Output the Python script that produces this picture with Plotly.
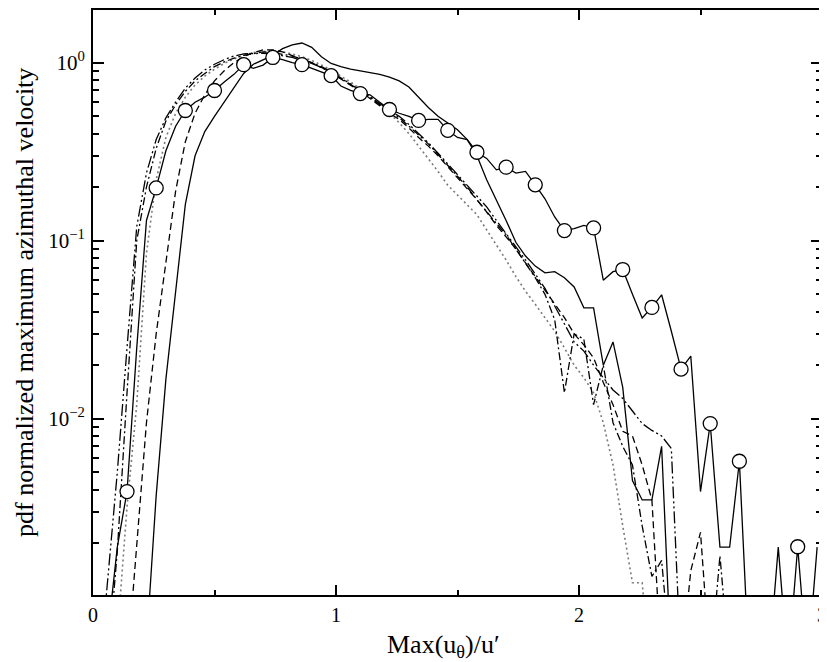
import plotly.graph_objects as go

# bin centres of Max(u_theta)/u'
X = [0.02, 0.06, 0.10, 0.14, 0.18, 0.22, 0.26, 0.30, 0.34, 0.38,
     0.42, 0.46, 0.50, 0.54, 0.58, 0.62, 0.66, 0.70, 0.74, 0.78,
     0.82, 0.86, 0.90, 0.94, 0.98, 1.02, 1.06, 1.10, 1.14, 1.18,
     1.22, 1.26, 1.30, 1.34, 1.38, 1.42, 1.46, 1.50, 1.54, 1.58,
     1.62, 1.66, 1.70, 1.74, 1.78, 1.82, 1.86, 1.90, 1.94, 1.98,
     2.02, 2.06, 2.10, 2.14, 2.18, 2.22, 2.26, 2.30, 2.34, 2.38,
     2.42, 2.46, 2.50, 2.54, 2.58, 2.62, 2.66, 2.70, 2.74, 2.78,
     2.82, 2.86, 2.90, 2.94, 2.98]

# solid line with open circles
pdf_circles = [None, 0.0006, 0.0019, 0.0039, 0.025, 0.13, 0.198, 0.32, 0.44, 0.539,
               0.60, 0.64, 0.698, 0.78, 0.86, 0.975, 0.93, 0.97, 1.07, 1.04,
               1.00, 0.975, 0.93, 0.88, 0.846, 0.74, 0.70, 0.671, 0.66, 0.60,
               0.546, 0.52, 0.50, 0.474, 0.48, 0.48, 0.417, 0.38, 0.37, 0.314,
               0.29, 0.25, 0.259, 0.24, 0.245, 0.206, 0.172, 0.136, 0.114, 0.117,
               0.122, 0.118, 0.060, 0.067, 0.0689, 0.050, 0.0368, 0.0422, 0.0497, 0.031,
               0.019, 0.0225, 0.0039, 0.0094, 0.0019, 0.0019, 0.00577, 0.0004, 0.0004, 0.0004,
               0.0019, 0.0004, 0.00191, 0.0004, 0.0019]
circle_every = 3
circle_start = 3

# plain solid line
pdf_solid = [None, None, None, None, None, 0.00054, 0.0037, 0.0167, 0.051, 0.16,
             0.30, 0.41, 0.50, 0.60, 0.72, 0.87, 0.98, 1.04, 1.10, 1.20,
             1.26, 1.29, 1.22, 1.08, 0.99, 0.95, 0.92, 0.90, 0.88, 0.86,
             0.83, 0.79, 0.73, 0.64, 0.56, 0.50, 0.46, 0.42, 0.37, 0.30,
             0.22, 0.17, 0.13, 0.098, 0.082, 0.072, 0.066, 0.067, 0.062, 0.055,
             0.042, 0.042, 0.020, 0.027, 0.015, 0.0045, 0.0035, 0.0035, 0.007, 0.0004,
             None, None, None, None, None, None, None, None, None, None,
             None, None, None, None, None]

# dashed
pdf_dashed = [None, None, None, 0.0004, 0.002, 0.0095, 0.03, 0.075, 0.19, 0.36,
              0.52, 0.66, 0.79, 0.90, 1.00, 1.08, 1.14, 1.18, 1.18, 1.15,
              1.10, 1.05, 1.00, 0.94, 0.88, 0.81, 0.75, 0.69, 0.63, 0.57,
              0.52, 0.48, 0.43, 0.38, 0.34, 0.30, 0.26, 0.225, 0.195, 0.17,
              0.145, 0.122, 0.105, 0.09, 0.075, 0.063, 0.053, 0.044, 0.037, 0.030,
              0.026, 0.022, 0.016, 0.012, 0.0085, 0.008, 0.0055, 0.0035, 0.0004, 0.0004,
              0.0004, 0.0014, 0.0023, 0.0004, None, None, None, None, None, None,
              None, None, None, None, None]

# dotted (grey)
pdf_dotted = [None, None, 0.0006, 0.0032, 0.012, 0.085, 0.22, 0.38, 0.52, 0.64,
              0.75, 0.84, 0.92, 0.99, 1.05, 1.10, 1.14, 1.16, 1.17, 1.15,
              1.12, 1.08, 1.03, 0.97, 0.91, 0.84, 0.78, 0.71, 0.65, 0.59,
              0.52, 0.46, 0.40, 0.34, 0.29, 0.245, 0.205, 0.18, 0.16, 0.14,
              0.115, 0.095, 0.078, 0.063, 0.052, 0.044, 0.037, 0.031, 0.025, 0.020,
              0.017, 0.014, 0.0095, 0.0055, 0.0025, 0.0012, 0.0012, 0.0003, None, None,
              None, None, None, None, None, None, None, None, None, None,
              None, None, None, None, None]

# dash-dot
pdf_dashdot = [None, 0.0004, 0.0018, 0.014, 0.10, 0.20, 0.33, 0.47, 0.58, 0.69,
               0.79, 0.87, 0.95, 1.01, 1.06, 1.10, 1.13, 1.15, 1.14, 1.12,
               1.09, 1.05, 1.00, 0.95, 0.89, 0.82, 0.76, 0.70, 0.64, 0.58,
               0.53, 0.49, 0.44, 0.39, 0.35, 0.305, 0.265, 0.23, 0.20, 0.17,
               0.145, 0.125, 0.108, 0.09, 0.075, 0.062, 0.05, 0.036, 0.014, 0.03,
               0.028, 0.012, 0.02, 0.0095, 0.007, 0.0055, 0.0025, 0.0013, 0.0016, 0.0004,
               0.0004, 0.0004, 0.0004, 0.0004, 0.0017, 0.0004, None, None, None, None,
               None, None, None, None, None]

# long dash-dot-dot
pdf_dashdotdot = [0.0003, 0.0012, 0.005, 0.025, 0.12, 0.24, 0.37, 0.49, 0.60, 0.72,
                  0.82, 0.91, 0.98, 1.04, 1.09, 1.12, 1.13, 1.13, 1.12, 1.10,
                  1.07, 1.03, 0.99, 0.94, 0.88, 0.82, 0.76, 0.70, 0.645, 0.59,
                  0.54, 0.50, 0.45, 0.40, 0.355, 0.31, 0.27, 0.235, 0.205, 0.18,
                  0.155, 0.13, 0.11, 0.093, 0.078, 0.065, 0.054, 0.043, 0.034, 0.027,
                  0.024, 0.020, 0.017, 0.0145, 0.013, 0.011, 0.0094, 0.0086, 0.008, 0.0068,
                  0.0004, None, None, None, None, None, None, None, None, None,
                  None, None, None, None, None]

x_ticks = [0, 1, 2, 3]
x_tick_text = ["0", "1", "2", "3"]
x_minor = [0.5, 1.5, 2.5]
y_ticks = [0.01, 0.1, 1]
y_tick_text = ["10<sup>−2</sup>", "10<sup>−1</sup>", "10<sup>0</sup>"]
y_minor = [m * d for d in (0.001, 0.01, 0.1) for m in range(2, 10)]

FONT = "Liberation Serif"

# page body has an 8px margin, so the figure is sized to fit the 827x662 window
W, H = 819, 654
ML, MT, MB = 85, 0, 67
PW, PH = W - ML, H - MT - MB

fig = go.Figure()

fig.add_trace(go.Scatter(x=X, y=pdf_dotted, mode="lines",
                         line=dict(color="#7a7a7a", width=1.6, dash="2px,3px")))
fig.add_trace(go.Scatter(x=X, y=pdf_dashed, mode="lines",
                         line=dict(color="black", width=1.3, dash="7px,4px")))
fig.add_trace(go.Scatter(x=X, y=pdf_dashdot, mode="lines",
                         line=dict(color="black", width=1.3, dash="8px,3px,2px,3px")))
fig.add_trace(go.Scatter(x=X, y=pdf_dashdotdot, mode="lines",
                         line=dict(color="black", width=1.3, dash="12px,3px,2px,3px,2px,3px")))
fig.add_trace(go.Scatter(x=X, y=pdf_solid, mode="lines",
                         line=dict(color="black", width=1.3)))
fig.add_trace(go.Scatter(x=X, y=pdf_circles, mode="lines",
                         line=dict(color="black", width=1.3)))
fig.add_trace(go.Scatter(x=X[circle_start::circle_every], y=pdf_circles[circle_start::circle_every],
                         mode="markers",
                         marker=dict(symbol="circle", size=14, color="white",
                                     line=dict(color="black", width=1.3))))

fig.update_layout(
    width=W, height=H,
    margin=dict(l=ML, r=0, t=MT, b=MB, pad=0),
    paper_bgcolor="white", plot_bgcolor="white",
    showlegend=False,
    font=dict(family=FONT, color="black", size=20),
)

fig.update_xaxes(
    range=[0, 3], tickmode="array", tickvals=x_ticks, ticktext=x_tick_text,
    ticks="inside", ticklen=10, tickwidth=1.5, tickcolor="black",
    showline=True, linewidth=2, linecolor="black", mirror="ticks",
    showgrid=False, zeroline=False, ticklabelstandoff=1, ticklabeloverflow="allow",
    tickfont=dict(family=FONT, size=20, color="black"),
    minor=dict(tickmode="array", tickvals=x_minor, ticks="inside", ticklen=5,
               tickwidth=1.5, tickcolor="black", showgrid=False),
)
fig.update_yaxes(
    type="log", range=[-2.99, 0.296], tickmode="array", tickvals=y_ticks, ticktext=y_tick_text,
    ticks="inside", ticklen=11, tickwidth=1.5, tickcolor="black",
    showline=True, linewidth=2, linecolor="black", mirror="ticks",
    showgrid=False, zeroline=False, ticklabelstandoff=2,
    tickfont=dict(family=FONT, size=21, color="black"),
    minor=dict(tickmode="array", tickvals=y_minor, ticks="inside", ticklen=6,
               tickwidth=1.5, tickcolor="black", showgrid=False),
)

fig.add_annotation(text="Max(u<sub>θ</sub>)/u′", xref="paper", yref="paper",
                   x=(438 - ML) / PW, y=-33 / PH, xanchor="center", yanchor="top",
                   showarrow=False, font=dict(family=FONT, size=26, color="black"))
fig.add_annotation(text="pdf normalized maximum azimuthal velocity", xref="paper", yref="paper",
                   x=(16 - ML) / PW, y=0.5, xanchor="center", yanchor="middle", textangle=-90,
                   showarrow=False, font=dict(family=FONT, size=26, color="black"))

fig.write_html("out.html")
